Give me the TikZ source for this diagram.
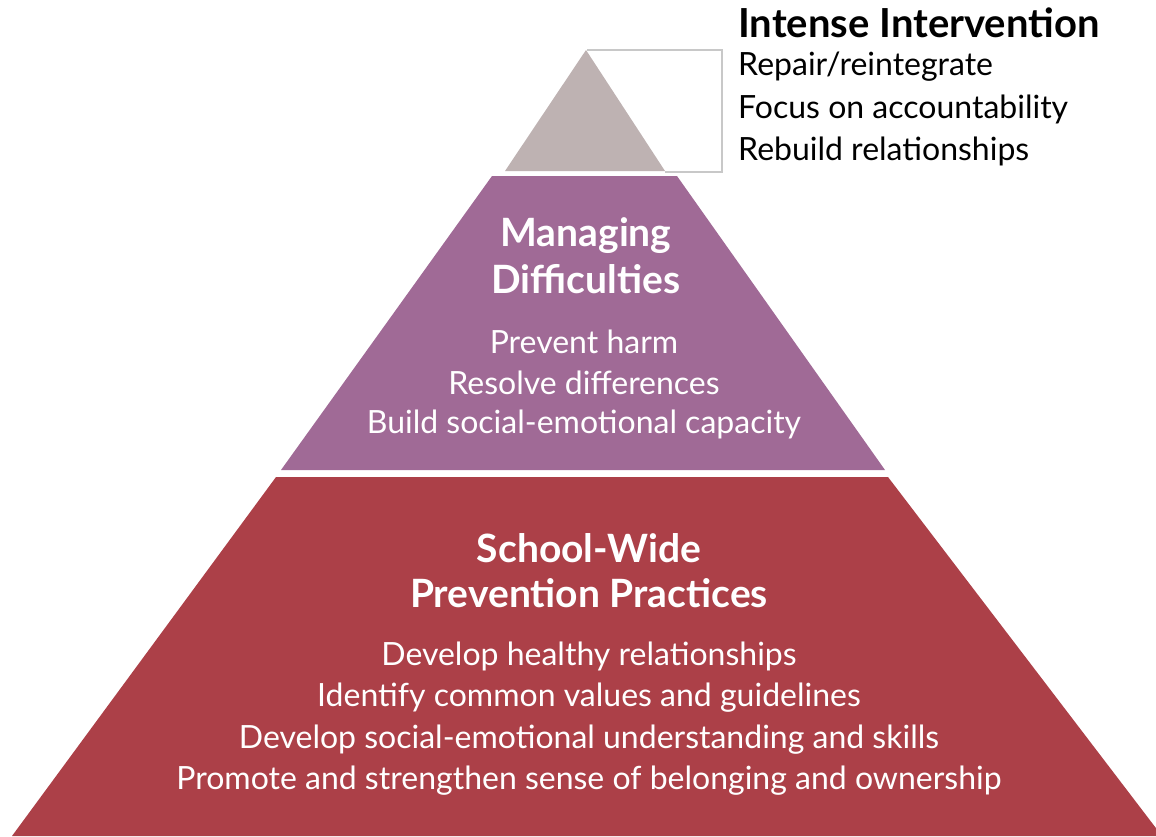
\documentclass[tikz,border=0pt]{standalone}
\usepackage{fontspec}
\setmainfont{Lato}
\definecolor{topgray}{RGB}{190,178,178}
\definecolor{midpurple}{RGB}{160,106,150}
\definecolor{basered}{RGB}{172,64,72}
\definecolor{edgegray}{RGB}{200,200,200}
\tikzset{
  tiertext/.style={text=white, font=\fontsize{32}{36}\selectfont, inner sep=0pt},
  tierhead/.style={text=white, font=\fontsize{39}{44}\selectfont\bfseries, inner sep=0pt},
  sidetext/.style={anchor=west, font=\fontsize{32}{36}\selectfont, inner sep=0pt}
}
\begin{document}
\begin{tikzpicture}[x=1pt,y=-1pt]
    \useasboundingbox (0,0) rectangle (1156,836);
          \draw[edgegray, line width=1.5pt] (587,50) -- (722,50) -- (722,172) -- (665,172);
          \fill[topgray] (586,50) -- (665,171) -- (505,171) -- cycle;
          \fill[midpurple] (492,176) -- (677,176) -- (885,470) -- (281,470) -- cycle;
          \fill[basered] (276,477) -- (888,477) -- (1162,836) -- (12,836) -- cycle;
        % top tier, beside the apex
          \node[sidetext, font=\fontsize{40}{44}\selectfont\bfseries] (top) at (738,23) {Intense Intervention};
        \foreach \t [count=\i] in {Repair/reintegrate, Focus on accountability, Rebuild relationships} {
            \node[sidetext] (top\i) at (738, 25+42*\i) {\t};
        }
        % middle tier
          \node[tierhead] (midA) at (586,236) {Managing};
          \node[tierhead] (midB) at (586,279) {Difficulties};
        \foreach \t [count=\i] in {Prevent harm, Resolve differences, Build social-emotional capacity} {
            \node[tiertext] (mid\i) at (584, 300+41.5*\i) {\t};
        }
        % base tier
          \node[tierhead] (baseA) at (589,548) {School-Wide};
          \node[tierhead] (baseB) at (589,593) {Prevention Practices};
        \foreach \t [count=\i] in {Develop healthy relationships, Identify common values and guidelines, Develop social-emotional understanding and skills, Promote and strengthen sense of belonging and ownership} {
            \node[tiertext] (base\i) at (589, 615+41.5*\i) {\t};
        }
    \end{tikzpicture}
\end{document}
